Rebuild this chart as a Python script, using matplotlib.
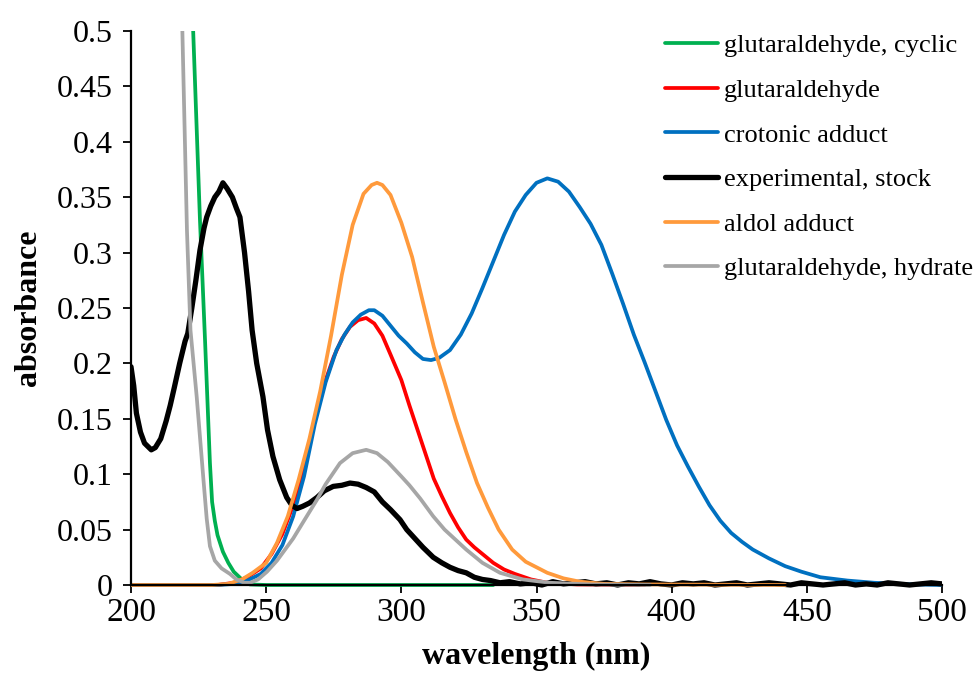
import matplotlib
matplotlib.use("Agg")
import matplotlib.pyplot as plt
from matplotlib.patches import Rectangle

plt.rcParams['font.family'] = ['Liberation Serif', 'DejaVu Serif']

# glutaraldehyde, cyclic
wl_cyc = [221.5, 223, 225.5, 227.4, 229.2, 230, 231, 232, 234, 236, 238, 241, 244, 250, 334]
ab_cyc = [0.62, 0.5, 0.33, 0.22, 0.11, 0.075, 0.058, 0.045, 0.03, 0.02, 0.012, 0.005, 0.0005, 0, 0]

# glutaraldehyde
wl_glu = [200, 232, 238, 243, 248, 252, 256, 260, 264, 268, 272, 275, 278, 281, 284, 287, 290,
          293, 296, 300, 303, 306, 309, 312, 315, 318, 321, 324, 327, 330, 334, 338, 342, 348,
          354, 365, 390]
ab_glu = [0, 0, 0.002, 0.007, 0.015, 0.028, 0.046, 0.072, 0.105, 0.150, 0.185, 0.206, 0.222,
          0.233, 0.239, 0.241, 0.236, 0.225, 0.208, 0.185, 0.162, 0.140, 0.118, 0.096, 0.080,
          0.065, 0.052, 0.041, 0.034, 0.028, 0.020, 0.014, 0.010, 0.005, 0.002, 0.0005, 0]

# crotonic adduct
wl_cro = [200, 232, 238, 243, 248, 252, 256, 260, 264, 268, 272, 276, 279, 282, 285, 288, 290,
          293, 296, 299, 302, 305, 308, 311, 314, 318, 322, 326, 330, 334, 338, 342, 346, 350,
          354, 358, 362, 366, 370, 374, 378, 382, 386, 390, 394, 398, 402, 406, 410, 414, 418,
          422, 426, 430, 436, 442, 448, 455, 465, 475, 490, 500]
ab_cro = [0, 0, 0.001, 0.004, 0.010, 0.020, 0.036, 0.062, 0.098, 0.145, 0.183, 0.212, 0.226,
          0.237, 0.244, 0.248, 0.248, 0.243, 0.234, 0.225, 0.218, 0.210, 0.204, 0.203, 0.205,
          0.212, 0.226, 0.245, 0.268, 0.292, 0.316, 0.337, 0.352, 0.363, 0.367, 0.364, 0.355,
          0.341, 0.326, 0.307, 0.281, 0.254, 0.226, 0.201, 0.175, 0.149, 0.126, 0.107, 0.089,
          0.072, 0.058, 0.047, 0.039, 0.032, 0.024, 0.017, 0.012, 0.007, 0.004, 0.002, 0.0005, 0]

# experimental, stock
wl_exp = [200, 201, 202, 203.5, 205, 207.5, 209, 211, 213, 214.5, 216, 218, 220, 221, 222.5,
          224, 225.5, 227, 228, 229.5, 231, 232.5, 234, 235.5, 237.5, 239, 240.3, 242, 243.5,
          244.8, 246.5, 248.8, 250.5, 252.5, 255, 257.6, 259.5, 261.4, 263.5, 266, 268.8,
          271.5, 274.8, 278, 281, 284, 287, 290, 293, 296, 299.5, 302, 305, 308, 311.8, 315,
          318, 321, 324, 327, 330, 333, 336.5,
          340, 344, 348, 352, 356, 360, 364, 368, 372, 376, 380, 384, 388, 392, 396, 400, 404,
          408, 412, 416, 420, 424, 428, 432, 436, 440, 444, 448, 452, 456, 460, 464, 468, 472,
          476, 480, 484, 488, 492, 496, 500]
ab_exp = [0.197, 0.18, 0.155, 0.138, 0.128, 0.122, 0.124, 0.132, 0.148, 0.162, 0.178, 0.200,
          0.220, 0.227, 0.250, 0.275, 0.302, 0.322, 0.332, 0.342, 0.350, 0.355, 0.363, 0.358,
          0.350, 0.340, 0.332, 0.300, 0.265, 0.230, 0.200, 0.170, 0.140, 0.116, 0.095, 0.079,
          0.072, 0.069, 0.071, 0.074, 0.079, 0.085, 0.089, 0.090, 0.092, 0.091, 0.088, 0.084,
          0.075, 0.068, 0.059, 0.050, 0.042, 0.034, 0.025, 0.020, 0.016, 0.013, 0.011, 0.007,
          0.005, 0.004, 0.002,
          0.003, 0.001, 0.002, 0.000, 0.003, 0.001, 0.002, 0.003, 0.001, 0.002, 0.000, 0.002,
          0.001, 0.003, 0.001, 0.000, 0.002, 0.001, 0.002, 0.000, 0.001, 0.002, 0.000, 0.001,
          0.002, 0.001, 0.000, 0.002, 0.001, 0.000, 0.001, 0.002, 0.000, 0.001, 0.000, 0.002,
          0.001, 0.000, 0.001, 0.002, 0.001]

# aldol adduct
wl_ald = [200, 230, 236, 241, 245, 250, 254, 258, 262, 266, 270, 274, 278, 282, 286, 289, 291,
          293, 296, 300, 304, 308, 312, 316, 320, 324, 328, 332, 336, 341, 346, 354, 360, 366,
          375, 390, 442]
ab_ald = [0, 0, 0.001, 0.005, 0.011, 0.020, 0.038, 0.062, 0.095, 0.132, 0.175, 0.225, 0.280,
          0.325, 0.353, 0.361, 0.363, 0.361, 0.352, 0.327, 0.296, 0.255, 0.215, 0.183, 0.150,
          0.120, 0.092, 0.070, 0.050, 0.032, 0.021, 0.011, 0.006, 0.003, 0.001, 0.0005, 0]

# glutaraldehyde, hydrate
wl_hyd = [217.5, 219, 220.7, 222, 224.3, 226.8, 228, 229.2, 231, 233.5, 236.6, 239, 242, 244,
          247, 250.3, 254, 257, 260, 264, 268.8, 272, 277.3, 282, 287, 291, 295, 300, 303, 307,
          311.8, 316, 320, 324, 330, 336.5, 345, 355, 370, 392]
ab_hyd = [0.65, 0.5, 0.32, 0.23, 0.17, 0.095, 0.06, 0.035, 0.022, 0.015, 0.010, 0.005, 0.002,
          0.002, 0.005, 0.012, 0.022, 0.032, 0.042, 0.058, 0.077, 0.091, 0.110, 0.119, 0.122,
          0.119, 0.111, 0.098, 0.090, 0.078, 0.062, 0.050, 0.041, 0.032, 0.020, 0.011, 0.005,
          0.002, 0.0005, 0]

series = [
    (wl_cyc, ab_cyc, '#00b050', 2.7, 'glutaraldehyde, cyclic'),
    (wl_glu, ab_glu, '#ff0000', 2.7, 'glutaraldehyde'),
    (wl_cro, ab_cro, '#0070c0', 2.7, 'crotonic adduct'),
    (wl_exp, ab_exp, '#000000', 3.8, 'experimental, stock'),
    (wl_ald, ab_ald, '#ff9a3c', 2.7, 'aldol adduct'),
    (wl_hyd, ab_hyd, '#a6a6a6', 2.7, 'glutaraldehyde, hydrate'),
]

fig = plt.figure(figsize=(9.76, 6.82), dpi=100)
ax = fig.add_axes([131/976, 1-585/682, (942-131)/976, (585-31)/682])

for wl, ab, col, lw, lab in series:
    line, = ax.plot(wl, ab, color=col, lw=lw, label=lab,
                    solid_capstyle='round', solid_joinstyle='round')
    # clip at the top of the axes only, so lines lying on zero stay whole
    clip = Rectangle((0, -0.03), 1, 1.03, transform=ax.transAxes)
    line.set_clip_path(clip)

ax.set_xlim(200, 500)
ax.set_ylim(0, 0.5)
ax.set_xticks([200, 250, 300, 350, 400, 450, 500])
ax.set_yticks([0, 0.05, 0.1, 0.15, 0.2, 0.25, 0.3, 0.35, 0.4, 0.45, 0.5])
ax.set_yticklabels(['0', '0.05', '0.1', '0.15', '0.2', '0.25', '0.3', '0.35', '0.4', '0.45', '0.5'])

for s in ['top', 'right']:
    ax.spines[s].set_visible(False)
for s in ['left', 'bottom']:
    ax.spines[s].set_linewidth(1.6)

ax.tick_params(axis='x', direction='out', length=6, width=1.3, labelsize=24, pad=3)
ax.tick_params(axis='y', direction='out', length=6, width=1.3, labelsize=23, pad=7)

ax.set_xlabel('wavelength (nm)', fontsize=23, fontweight='bold', labelpad=10)
ax.set_ylabel('absorbance', fontsize=23, fontweight='bold', labelpad=10)

fig.legend(loc='upper left', bbox_to_anchor=(665/976, 1-34/682), frameon=False,
           fontsize=19, handlelength=2.0, handletextpad=0.22, labelspacing=0.8,
           borderpad=0, borderaxespad=0)

fig.savefig('out.png', dpi=100)
